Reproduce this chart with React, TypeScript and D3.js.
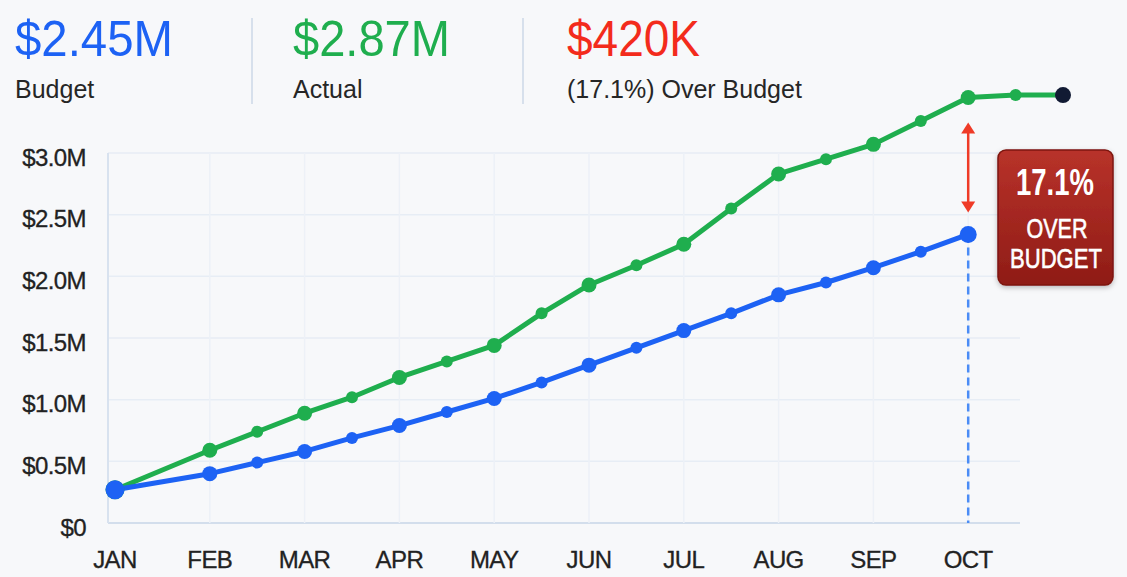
import React from "react";
import * as d3 from "d3";

const monthLabels = ["JAN", "FEB", "MAR", "APR", "MAY", "JUN", "JUL", "AUG", "SEP", "OCT"];
const budgetPeriods = [0, 1, 1.5, 2, 2.5, 3, 3.5, 4, 4.5, 5, 5.5, 6, 6.5, 7, 7.5, 8, 8.5, 9];
const budgetValues = [0.27, 0.40, 0.49, 0.58, 0.69, 0.79, 0.90, 1.01, 1.14, 1.28, 1.42, 1.56, 1.70, 1.85, 1.95, 2.07, 2.20, 2.34];
const actualPeriods = [0, 1, 1.5, 2, 2.5, 3, 3.5, 4, 4.5, 5, 5.5, 6, 6.5, 7, 7.5, 8, 8.5, 9, 9.5, 10];
const actualValues = [0.27, 0.59, 0.74, 0.89, 1.02, 1.18, 1.31, 1.44, 1.70, 1.93, 2.09, 2.26, 2.55, 2.83, 2.95, 3.07, 3.26, 3.45, 3.47, 3.47];
const yTicks = [0, 0.5, 1.0, 1.5, 2.0, 2.5, 3.0];
const headerValues = ["$2.45M", "$2.87M", "$420K"];
const headerLabels = ["Budget", "Actual", "(17.1%) Over Budget"];
const badgeLines = ["17.1%", "OVER", "BUDGET"];

const W = 1127;
const H = 577;
const BLUE = "#1d62f4";
const GREEN = "#1fae4e";

export default function App() {
  const x = d3.scaleLinear().domain([0, 10]).range([115, 1063]);
  const y = d3.scaleLinear().domain([0, 3]).range([523, 153]);
  const plotLeft = 108;
  const plotRight = 1020;
  const plotTop = y(3);
  const plotBottom = y(0);

  const budget = budgetPeriods.map((p, i) => ({ p, v: budgetValues[i] }));
  const actual = actualPeriods.map((p, i) => ({ p, v: actualValues[i] }));
  const line = d3
    .line<{ p: number; v: number }>()
    .x((d) => x(d.p))
    .y((d) => y(d.v));

  const octIdx = 9;
  const bOct = budget.find((d) => d.p === octIdx)!;
  const aOct = actual.find((d) => d.p === octIdx)!;
  const arrowX = x(octIdx);
  const arrowTop = y(aOct.v) + 25;
  const arrowBot = y(bOct.v) - 22;

  const headerX = [15, 293, 567];
  const headerColors = [BLUE, GREEN, "#f32b1c"];
  const headerWidths = [158, 157, 133];
  const sepX = [252, 523];

  const font = "'Liberation Sans', Arial, sans-serif";
  const narrow = "'Liberation Sans Narrow', 'Liberation Sans', Arial, sans-serif";

  const radius = (p: number, isBudget: boolean) => {
    if (p === 0) return 9.5;
    if (isBudget && p === octIdx) return 8.5;
    if (Number.isInteger(p)) return 7.5;
    return 6;
  };

  return (
    <svg
      width={W}
      height={H}
      style={{ position: "absolute", left: 0, top: 0, display: "block" }}
      fontFamily={font}
    >
      <defs>
        <linearGradient id="badgeGrad" x1="0" y1="0" x2="0" y2="1">
          <stop offset="0%" stopColor="#b8322a" />
          <stop offset="100%" stopColor="#8f1c16" />
        </linearGradient>
        <filter id="shadow" x="-20%" y="-20%" width="140%" height="140%">
          <feDropShadow dx="0" dy="2" stdDeviation="2.5" floodColor="#000" floodOpacity="0.25" />
        </filter>
      </defs>
      <rect x={0} y={0} width={W} height={H} fill="#f7f8fa" />

      {/* header */}
      {headerValues.map((t, i) => (
        <g key={t}>
          <text
            x={headerX[i]}
            y={56}
            fontSize={50}
            fill={headerColors[i]}
            textLength={headerWidths[i]}
            lengthAdjust="spacingAndGlyphs"
          >
            {t}
          </text>
          <text x={headerX[i]} y={98} fontSize={25} fill="#262626">
            {headerLabels[i]}
          </text>
        </g>
      ))}
      {sepX.map((sx) => (
        <line key={sx} x1={sx} x2={sx} y1={18} y2={104} stroke="#d7e0ec" strokeWidth={2} />
      ))}

      {/* grid */}
      {yTicks.map((t) => (
        <line
          key={"gy" + t}
          x1={plotLeft}
          x2={plotRight}
          y1={y(t)}
          y2={y(t)}
          stroke={t === 0 ? "#d3deec" : "#e7edf5"}
          strokeWidth={t === 0 ? 2 : 1.5}
        />
      ))}
      {monthLabels.map((m, i) =>
        i === 0 ? null : (
          <line
            key={"gx" + m}
            x1={x(i)}
            x2={x(i)}
            y1={plotTop}
            y2={plotBottom}
            stroke="#edf1f7"
            strokeWidth={1.5}
          />
        )
      )}
      <line x1={plotLeft} x2={plotLeft} y1={plotTop} y2={plotBottom} stroke="#d8e2ef" strokeWidth={2} />

      {/* y labels */}
      {yTicks.map((t) => (
        <text
          key={"yl" + t}
          x={86}
          y={y(t) + 4}
          fontSize={24}
          fill="#222"
          textAnchor="end"
          dominantBaseline="central"
          letterSpacing={-0.6}
          stroke="#222"
          strokeWidth={0.3}
        >
          {t === 0 ? "$0" : `$${t.toFixed(1)}M`}
        </text>
      ))}
      {/* x labels */}
      {monthLabels.map((m, i) => (
        <text
          key={"xl" + m}
          x={x(i)}
          y={568}
          fontSize={24}
          fill="#222"
          textAnchor="middle"
          letterSpacing={-0.6}
          stroke="#222"
          strokeWidth={0.3}
        >
          {m}
        </text>
      ))}

      {/* dashed drop line */}
      <line
        x1={x(octIdx)}
        x2={x(octIdx)}
        y1={y(bOct.v)}
        y2={plotBottom}
        stroke="#4a8cf6"
        strokeWidth={2.5}
        strokeDasharray="8 5"
      />

      {/* lines */}
      <path d={line(actual) || ""} fill="none" stroke={GREEN} strokeWidth={5} strokeLinejoin="round" />
      <path d={line(budget) || ""} fill="none" stroke={BLUE} strokeWidth={5} strokeLinejoin="round" />
      {actual.map((d, i) => (
        <circle
          key={"a" + i}
          cx={x(d.p)}
          cy={y(d.v)}
          r={i === actual.length - 1 ? 8 : radius(d.p, false)}
          fill={i === actual.length - 1 ? "#111a33" : GREEN}
        />
      ))}
      {budget.map((d, i) => (
        <circle key={"b" + i} cx={x(d.p)} cy={y(d.v)} r={radius(d.p, true)} fill={BLUE} />
      ))}

      {/* red double arrow */}
      <line x1={arrowX} x2={arrowX} y1={arrowTop + 8} y2={arrowBot - 8} stroke="#ef3b27" strokeWidth={2.5} />
      <path
        d={`M${arrowX},${arrowTop} L${arrowX - 7},${arrowTop + 11} L${arrowX + 7},${arrowTop + 11} Z`}
        fill="#ef3b27"
      />
      <path
        d={`M${arrowX},${arrowBot} L${arrowX - 7},${arrowBot - 11} L${arrowX + 7},${arrowBot - 11} Z`}
        fill="#ef3b27"
      />

      {/* badge */}
      <g filter="url(#shadow)">
        <rect x={998} y={150} width={115} height={135} rx={8} fill="url(#badgeGrad)" stroke="#7d1510" strokeWidth={1.5} />
      </g>
      <text
        x={1055}
        y={195}
        fontSize={36}
        fontWeight="bold"
        fill="#fff"
        textAnchor="middle"
        fontFamily={narrow}
        textLength={78}
        lengthAdjust="spacingAndGlyphs"
      >
        {badgeLines[0]}
      </text>
      <text
        x={1057}
        y={238}
        fontSize={27}
        fill="#fff"
        stroke="#fff"
        strokeWidth={0.6}
        textAnchor="middle"
        fontFamily={narrow}
        textLength={61}
        lengthAdjust="spacingAndGlyphs"
      >
        {badgeLines[1]}
      </text>
      <text
        x={1056}
        y={268}
        fontSize={27}
        fill="#fff"
        stroke="#fff"
        strokeWidth={0.6}
        textAnchor="middle"
        fontFamily={narrow}
        textLength={92}
        lengthAdjust="spacingAndGlyphs"
      >
        {badgeLines[2]}
      </text>
    </svg>
  );
}
